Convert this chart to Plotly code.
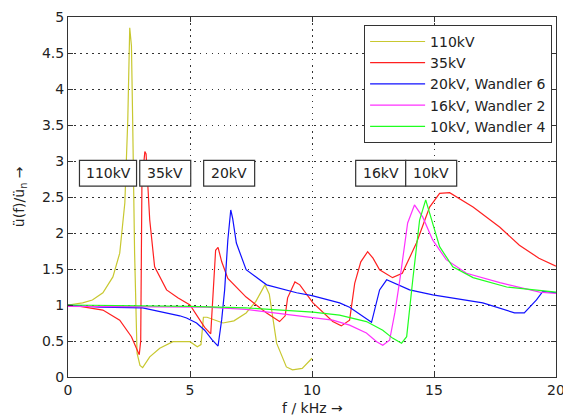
import plotly.graph_objects as go

# ---------------- data ----------------
f_110 = [0, 0.6, 1.0, 1.43, 1.84, 2.12, 2.33, 2.45, 2.53, 2.6, 2.65, 2.73, 2.83, 2.95, 3.06, 3.2, 3.35,
         3.76, 4.3, 4.86, 5.0, 5.3, 5.45, 5.55, 5.7, 6.35, 6.8, 7.3, 7.7, 8.07, 8.25, 8.55, 8.95,
         9.2, 9.6, 10.0]
u_110 = [1.0, 1.03, 1.07, 1.17, 1.39, 1.72, 2.42, 3.57, 4.85, 4.6, 3.57, 1.72, 0.33, 0.16, 0.13, 0.2, 0.28,
         0.40, 0.49, 0.49, 0.49, 0.42, 0.45, 0.83, 0.83, 0.75, 0.78, 0.89, 1.05, 1.28, 1.15, 0.47, 0.14,
         0.1, 0.12, 0.26]

f_35 = [0, 0.5, 1.43, 2.12, 2.6, 2.8, 2.92, 2.98, 3.03, 3.15, 3.2, 3.35, 3.55, 4.04, 4.5, 5.0, 5.3,
        5.6, 5.85, 5.95, 6.05, 6.15, 6.3, 6.55, 7.3, 8.14, 8.67, 8.9, 9.0, 9.3, 9.5, 10.04, 10.85,
        11.2, 11.54, 11.75, 12.0, 12.28, 12.5, 12.77, 13.3, 13.7, 14.28, 14.82, 15.23, 15.64, 16.6,
        17.7, 18.5, 19.3, 20.0]
u_35 = [1.0, 0.98, 0.93, 0.79, 0.56, 0.4, 0.31, 0.5, 2.7, 3.13, 3.1, 2.18, 1.53, 1.21, 1.1, 1.0, 0.85,
        0.69, 0.6, 1.2, 1.76, 1.8, 1.6, 1.37, 1.11, 0.89, 0.77, 0.85, 1.1, 1.32, 1.28, 1.03, 0.77,
        0.71, 0.79, 1.3, 1.6, 1.74, 1.65, 1.49, 1.38, 1.44, 1.86, 2.36, 2.55, 2.56, 2.36,
        2.08, 1.83, 1.65, 1.54]

f_20 = [0, 1.3, 3.06, 4.04, 4.58, 4.86, 5.27, 5.6, 5.9, 6.15, 6.3, 6.42, 6.55, 6.67, 6.75, 6.9, 7.3,
        8.14, 9.37, 10.0, 11.13, 11.54, 12.15, 12.44, 12.77, 13.06, 14.0, 14.95, 17.0, 18.3, 18.7,
        19.2, 19.46, 20.0]
u_20 = [1.0, 0.97, 0.96, 0.89, 0.85, 0.82, 0.75, 0.65, 0.52, 0.43, 0.8, 1.21, 1.9, 2.32, 2.2, 1.86, 1.49,
        1.28, 1.17, 1.13, 1.03, 0.97, 0.83, 0.76, 1.21, 1.35, 1.21, 1.14, 1.03, 0.89, 0.89,
        1.07, 1.19, 1.17]

f_16 = [0, 2.0, 5.0, 5.68, 7.3, 8.67, 9.5, 10.85, 11.54, 12.23, 12.65, 12.9, 13.18, 13.4, 13.6, 13.92,
        14.2, 14.54, 14.95, 15.5, 16.33, 17.7, 19.33, 20.0]
u_16 = [0.98, 0.98, 0.97, 0.97, 0.94, 0.88, 0.85, 0.79, 0.72, 0.61, 0.49, 0.44, 0.51, 0.9, 1.35, 2.14,
        2.39, 2.22, 1.9, 1.63, 1.44, 1.31, 1.18, 1.16]

f_10 = [0, 5.0, 7.3, 9.5, 10.04, 11.13, 11.54, 12.23, 12.9, 13.3, 13.67, 13.88, 14.13, 14.41, 14.66,
        14.9, 15.23, 15.77, 16.6, 17.98, 20.0]
u_10 = [1.0, 0.98, 0.96, 0.92, 0.9, 0.86, 0.83, 0.77, 0.65, 0.54, 0.47, 0.56, 1.35, 2.18, 2.46,
        2.18, 1.81, 1.53, 1.38, 1.25, 1.18]

series_names = ["110kV", "35kV", "20kV, Wandler 6", "16kV, Wandler 2", "10kV, Wandler 4"]
series_colors = ["#c8c830", "#ff2020", "#1010ff", "#ff30ff", "#20ff20"]
series_f = [f_110, f_35, f_20, f_16, f_10]
series_u = [u_110, u_35, u_20, u_16, u_10]

# label boxes (text, x0, x1) in kHz, y range
box_labels = ["110kV", "35kV", "20kV", "16kV", "10kV"]
box_x0 = [0.47, 2.94, 5.56, 11.79, 13.84]
box_x1 = [2.81, 5.03, 7.65, 13.84, 15.93]
box_y0, box_y1 = 2.65, 3.01

x_ticks = [0, 5, 10, 15, 20]
y_ticks = [0, 0.5, 1, 1.5, 2, 2.5, 3, 3.5, 4, 4.5, 5]
y_ticklabels = ["0", "0.5", "1", "1.5", "2", "2.5", "3", "3.5", "4", "4.5", "5"]

FONT = "DejaVu Sans"
TXT = "#222"

fig = go.Figure()
for name, col, fx, uy in zip(series_names, series_colors, series_f, series_u):
    fig.add_trace(go.Scatter(x=fx, y=uy, mode="lines", name=name,
                             line=dict(color=col, width=1.2)))

for lab, x0, x1 in zip(box_labels, box_x0, box_x1):
    fig.add_shape(type="rect", xref="x", yref="y", x0=x0, x1=x1, y0=box_y0, y1=box_y1,
                  line=dict(color="#333", width=1.2), fillcolor="white", layer="above")
    fig.add_annotation(x=(x0 + x1) / 2, y=(box_y0 + box_y1) / 2, xref="x", yref="y",
                       text=lab, showarrow=False, font=dict(family=FONT, size=14, color=TXT))

# axis titles as paper annotations
fig.add_annotation(x=0.5, y=-0.085, xref="paper", yref="paper", text="f / kHz \u2192",
                   showarrow=False, xanchor="center", yanchor="middle",
                   font=dict(family=FONT, size=14, color=TXT))
fig.add_annotation(x=-0.098, y=0.5, xref="paper", yref="paper",
                   text="\u00fc(f)/\u00fc<sub>n</sub> \u2192", textangle=-90,
                   showarrow=False, xanchor="center", yanchor="middle",
                   font=dict(family=FONT, size=14, color=TXT))

grid_dash = "1.5px,4.5px"
fig.update_layout(
    width=563, height=418,
    margin=dict(l=68, r=7, t=17, b=41),
    paper_bgcolor="white", plot_bgcolor="white",
    font=dict(family=FONT, size=14, color=TXT),
    showlegend=True,
    legend=dict(x=0.992, y=0.978, xanchor="right", yanchor="top",
                bgcolor="white", bordercolor="#333", borderwidth=1,
                font=dict(family=FONT, size=14, color=TXT),
                itemwidth=55, tracegroupgap=0),
    xaxis=dict(range=[0, 20], tickvals=x_ticks, ticktext=[str(v) for v in x_ticks],
               automargin=False, ticklabeloverflow="allow",
               showline=True, linecolor="#333", linewidth=1, mirror="ticks",
               ticks="inside", ticklen=5, tickcolor="#333",
               showgrid=True, gridcolor="#333", griddash=grid_dash, gridwidth=1,
               zeroline=False),
    yaxis=dict(range=[0, 5], tickvals=y_ticks, ticktext=y_ticklabels,
               automargin=False, ticklabeloverflow="allow",
               showline=True, linecolor="#333", linewidth=1, mirror="ticks",
               ticks="inside", ticklen=5, tickcolor="#333",
               showgrid=True, gridcolor="#333", griddash=grid_dash, gridwidth=1,
               zeroline=False),
)

fig.write_html("out.html", config={"displayModeBar": False},
               post_script="document.body.style.margin='0';document.body.style.overflow='hidden';")
